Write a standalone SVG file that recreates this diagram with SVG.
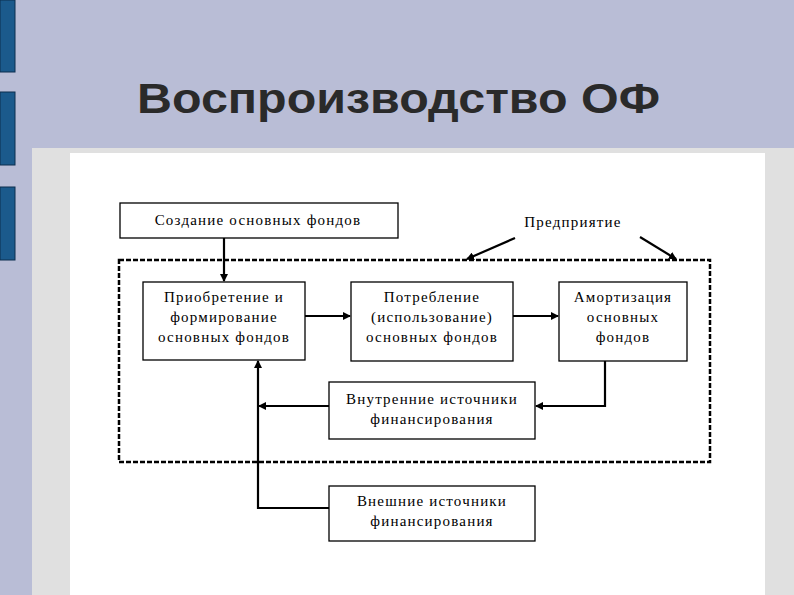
<svg xmlns="http://www.w3.org/2000/svg" width="794" height="595" viewBox="0 0 794 595">
<style>
.b{fill:#fff;stroke:#000;stroke-width:1.3}
.t{font-family:"Liberation Serif",serif;font-size:15px;letter-spacing:1.2px;text-anchor:middle;fill:#000}
.c{stroke:#000;stroke-width:2.2;fill:none}
</style>
<defs><marker id="a" markerWidth="8" markerHeight="8" refX="7" refY="4" orient="auto" markerUnits="userSpaceOnUse"><path d="M0,0L8,4L0,8z"/></marker></defs>
<rect width="794" height="595" fill="#b9bdd6"/>
<g fill="#1b5a8c" stroke="#0d2f4f"><rect x="0" y="0" width="15" height="72"/><rect x="0" y="92" width="15" height="73"/><rect x="0" y="187" width="15" height="73"/></g>
<rect x="32" y="148" width="762" height="447" fill="#e0e0e0"/>
<rect x="70" y="153" width="695" height="442" fill="#fff"/>
<text x="137" y="113" font-family="Liberation Sans,sans-serif" font-weight="bold" font-size="43" textLength="523" lengthAdjust="spacingAndGlyphs" fill="#2a2a2a">Воспроизводство ОФ</text>
<rect x="119" y="260" width="591" height="202" fill="none" stroke="#000" stroke-width="2.5" stroke-dasharray="5,2"/>
<g id="n1"><rect class="b" x="120" y="203" width="278" height="35"/><text class="t" x="258" y="225">Создание основных фондов</text></g>
<g id="n2"><rect class="b" x="143" y="282" width="162" height="78"/><text class="t" x="224" y="302">Приобретение и</text><text class="t" x="224" y="322">формирование</text><text class="t" x="224" y="342">основных фондов</text></g>
<g id="n3"><rect class="b" x="351" y="282" width="162" height="79"/><text class="t" x="432" y="302">Потребление</text><text class="t" x="432" y="322">(использование)</text><text class="t" x="432" y="342">основных фондов</text></g>
<g id="n4"><rect class="b" x="559" y="282" width="128" height="79"/><text class="t" x="623" y="302">Амортизация</text><text class="t" x="623" y="322">основных</text><text class="t" x="623" y="342">фондов</text></g>
<g id="n5"><rect class="b" x="329" y="382" width="206" height="57"/><text class="t" x="432" y="404">Внутренние источники</text><text class="t" x="432" y="424">финансирования</text></g>
<g id="n6"><rect class="b" x="329" y="486" width="206" height="55"/><text class="t" x="432" y="506">Внешние источники</text><text class="t" x="432" y="526">финансирования</text></g>
<g id="n7"><text class="t" x="573" y="227">Предприятие</text></g>
<g id="connectors">
<path class="c" d="M224,238V281" marker-end="url(#a)"/>
<path class="c" d="M305,316H350" marker-end="url(#a)"/>
<path class="c" d="M513,316H558" marker-end="url(#a)"/>
<path class="c" d="M605,361V406H536" marker-end="url(#a)"/>
<path class="c" d="M329,406H259" marker-end="url(#a)"/>
<path class="c" d="M329,508H258V361" marker-end="url(#a)"/>
<path class="c" d="M515,238L467,259" stroke-width="1.5" marker-end="url(#a)"/>
<path class="c" d="M640,237L676,259" stroke-width="1.5" marker-end="url(#a)"/>
</g>
</svg>
